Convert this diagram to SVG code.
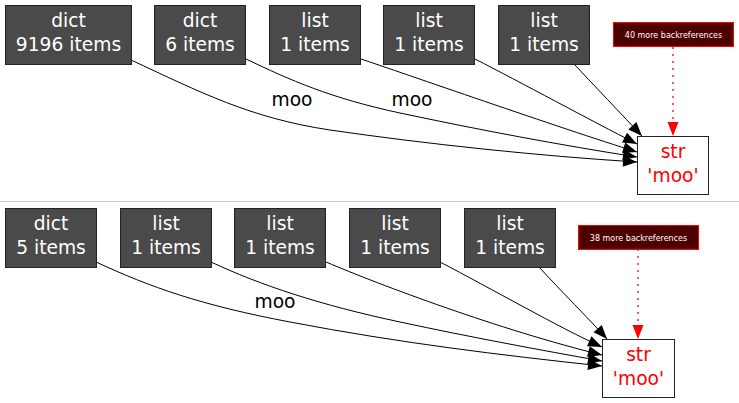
<svg xmlns="http://www.w3.org/2000/svg" width="739" height="403" viewBox="0 0 739 403">
<style>
.node rect{fill:#4a4a4a;stroke:#222;stroke-width:1}
.node text{fill:#fff;font-family:"DejaVu Sans",sans-serif;font-size:18.67px;text-anchor:middle}
.str rect{fill:#fff;stroke:#222;stroke-width:1}
.str text{fill:#f00;font-family:"DejaVu Sans",sans-serif;font-size:18.67px;text-anchor:middle}
.more rect{fill:#4d0000;stroke:#f00;stroke-width:1}
.more text{fill:#fff;font-family:"DejaVu Sans",sans-serif;font-size:8px;text-anchor:middle}
.edge{fill:none;stroke:#000;stroke-width:1}
.dot{fill:none;stroke:#f00;stroke-width:1.3;stroke-dasharray:2,5}
.lbl{fill:#000;font-family:"DejaVu Sans",sans-serif;font-size:18.67px;text-anchor:middle}
</style>
<defs>
<marker id="ah" markerUnits="userSpaceOnUse" markerWidth="15" markerHeight="12" refX="14" refY="5.5" orient="auto" overflow="visible">
<path d="M0,0 L14,5.5 L0,11 Z" fill="#000"/>
</marker>
<marker id="ahr" markerUnits="userSpaceOnUse" markerWidth="15" markerHeight="12" refX="14" refY="5.5" orient="auto" overflow="visible">
<path d="M0,0 L14,5.5 L0,11 Z" fill="#f00"/>
</marker>
</defs>
<line x1="0" y1="201.5" x2="739" y2="201.5" stroke="#ccc" stroke-width="1"/>
<g id="edges">
<path class="edge" d="M131,60 C200,92 250,118 330,130 C426,144 540,156 637,162" marker-end="url(#ah)"/>
<path class="edge" d="M246,59 C290,80 330,98 400,113 C480,130 560,145 637,157" marker-end="url(#ah)"/>
<path class="edge" d="M361,59 C400,72 560,128 637,152" marker-end="url(#ah)"/>
<path class="edge" d="M475,59 C520,82 590,120 637,144" marker-end="url(#ah)"/>
<path class="edge" d="M574,64 C590,81 625,118 642,136" marker-end="url(#ah)"/>
<path class="dot" d="M673,47 L673,136" marker-end="url(#ahr)"/>
<text class="lbl" x="292" y="106">moo</text>
<text class="lbl" x="412" y="106">moo</text>
<path class="edge" d="M96,262 C150,287 200,305 290,322 C400,343 500,355 602,366" marker-end="url(#ah)"/>
<path class="edge" d="M211,262 C260,285 320,305 400,322 C470,337 540,350 602,361" marker-end="url(#ah)"/>
<path class="edge" d="M326,262 C380,285 500,330 602,355" marker-end="url(#ah)"/>
<path class="edge" d="M440,262 C490,288 560,328 602,347" marker-end="url(#ah)"/>
<path class="edge" d="M539,267 C560,290 590,320 607,339" marker-end="url(#ah)"/>
<path class="dot" d="M638,249 L638,339" marker-end="url(#ahr)"/>
<text class="lbl" x="275" y="308">moo</text>
</g>
<g id="n1" class="node"><rect x="5.5" y="5.5" width="126" height="59"/><text x="68.5" y="27">dict</text><text x="68.5" y="51">9196 items</text></g>
<g id="n2" class="node"><rect x="154.5" y="5.5" width="91" height="59"/><text x="200" y="27">dict</text><text x="200" y="51">6 items</text></g>
<g id="n3" class="node"><rect x="269.5" y="5.5" width="91" height="59"/><text x="315" y="27">list</text><text x="315" y="51">1 items</text></g>
<g id="n4" class="node"><rect x="383.5" y="5.5" width="91" height="59"/><text x="429" y="27">list</text><text x="429" y="51">1 items</text></g>
<g id="n5" class="node"><rect x="498.5" y="5.5" width="91" height="59"/><text x="544" y="27">list</text><text x="544" y="51">1 items</text></g>
<g id="more1" class="more"><rect x="613.5" y="22.5" width="120" height="24"/><text x="673.5" y="37.5">40 more backreferences</text></g>
<g id="str1" class="str"><rect x="637.5" y="136.5" width="71" height="58"/><text x="673" y="158">str</text><text x="673" y="182">'moo'</text></g>
<g id="m1" class="node"><rect x="5.5" y="208.5" width="91" height="59"/><text x="51" y="230">dict</text><text x="51" y="254">5 items</text></g>
<g id="m2" class="node"><rect x="120.5" y="208.5" width="91" height="59"/><text x="166" y="230">list</text><text x="166" y="254">1 items</text></g>
<g id="m3" class="node"><rect x="234.5" y="208.5" width="91" height="59"/><text x="280" y="230">list</text><text x="280" y="254">1 items</text></g>
<g id="m4" class="node"><rect x="349.5" y="208.5" width="91" height="59"/><text x="395" y="230">list</text><text x="395" y="254">1 items</text></g>
<g id="m5" class="node"><rect x="464.5" y="208.5" width="91" height="59"/><text x="510" y="230">list</text><text x="510" y="254">1 items</text></g>
<g id="more2" class="more"><rect x="578.5" y="225.5" width="120" height="24"/><text x="638.5" y="240.5">38 more backreferences</text></g>
<g id="str2" class="str"><rect x="602.5" y="339.5" width="72" height="58"/><text x="638.5" y="361">str</text><text x="638.5" y="385">'moo'</text></g>
</svg>
